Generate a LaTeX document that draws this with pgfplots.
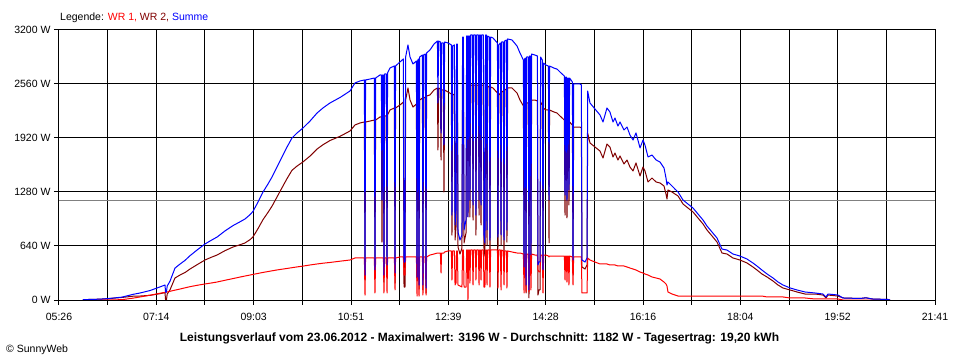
\documentclass[border=0pt]{standalone}
\usepackage{fontspec}
\setmainfont{Liberation Sans}
\usepackage{pgfplots}
\usepackage{pgfplotstable}
\pgfplotsset{compat=1.18}
\definecolor{wrone}{RGB}{255,0,0}
\definecolor{wrtwo}{RGB}{128,0,0}
\definecolor{summe}{RGB}{0,0,255}
\definecolor{avg}{RGB}{128,128,128}
\pgfplotstableread{
t wr1 wr2 summe
352.7 0 4 4
371.6 0 10 10
382.8 1 18 19
396.1 4 30 34
408.4 22 45 67
416.2 36 47 83
427.3 57 55 112
438.4 80 75 155
444.0 91 87 178
444.6 92 0 92
445.6 94 0 94
446.4 95 70 165
449.5 103 119 222
455.1 117 261 378
460.7 130 296 426
466.2 144 325 469
471.8 158 367 525
480.7 176 425 601
488.5 190 474 664
495.2 201 505 706
501.9 213 533 746
510.8 234 585 819
519.7 254 628 882
527.5 272 655 927
533.0 284 676 960
538.6 296 715 1011
541.9 303 747 1050
547.5 315 846 1161
553.1 327 953 1280
558.6 337 1038 1375
563.1 346 1112 1458
568.6 356 1220 1576
574.2 365 1330 1695
579.8 374 1439 1813
585.3 383 1537 1920
590.9 392 1587 1979
597.6 402 1637 2039
605.4 415 1706 2121
613.2 427 1789 2216
619.8 436 1840 2276
627.6 445 1890 2335
638.8 460 1940 2400
649.9 474 2003 2477
655.4 498 2074 2572
661.0 498 2098 2596
665.9 498 2110 2608
666.6 59 237 296
667.2 498 2110 2608
672.2 498 2121 2619
677.0 498 2133 2631
677.7 83 273 356
678.4 498 2133 2631
683.3 498 2169 2667
684.8 498 2169 2667
685.5 498 687 1185
686.2 498 2169 2667
687.1 498 2169 2667
687.7 83 213 296
688.4 498 2181 2679
690.4 498 2181 2679
691.1 83 332 415
691.7 498 2193 2691
694.4 498 2252 2750
699.3 498 2276 2774
700.0 119 201 320
700.6 498 2276 2774
705.5 510 2311 2821
709.3 510 2347 2857
710.0 296 154 450
711.1 296 154 450
711.8 510 2370 2880
714.4 510 2513 3023
716.7 510 2370 2880
720.0 510 2287 2797
723.8 510 2323 2833
724.5 47 225 272
725.1 510 2323 2833
726.0 510 2347 2857
726.7 47 130 177
727.4 510 2370 2880
730.5 510 2394 2904
731.1 59 119 178
731.8 510 2394 2904
733.8 510 2406 2916
734.5 59 83 142
735.1 510 2418 2928
738.9 533 2430 2963
743.4 545 2489 3034
747.2 557 2513 3070
747.8 557 1778 2335
748.5 557 2513 3070
750.5 557 2501 3058
751.2 320 1659 1979
751.8 557 2489 3046
753.8 557 2489 3046
754.5 557 1280 1837
755.2 569 2489 3058
759.0 581 2465 3046
762.7 581 2442 3023
763.4 237 770 1007
764.1 581 2430 3011
766.1 581 2442 3023
766.8 178 711 889
767.9 201 865 1066
768.5 581 2453 3034
769.4 581 2453 3034
770.1 178 628 806
772.3 166 545 711
774.5 154 616 770
775.2 593 2524 3117
776.1 593 2524 3117
776.8 154 676 830
779.0 154 794 948
779.7 593 2536 3129
780.6 593 2536 3129
781.2 0 984 984
781.9 593 2536 3129
782.8 593 2536 3129
783.4 201 984 1185
784.1 593 2548 3141
786.1 593 2548 3141
786.8 178 948 1126
787.5 593 2548 3141
789.5 593 2548 3141
790.1 237 770 1007
790.8 593 2548 3141
792.8 593 2548 3141
793.5 178 1007 1185
794.1 593 2548 3141
795.0 593 2548 3141
795.7 237 889 1126
796.4 593 2548 3141
798.4 593 2548 3141
799.0 154 616 770
800.1 154 521 675
800.8 593 2548 3141
801.7 593 2548 3141
802.4 178 652 830
803.0 593 2536 3129
805.0 593 2524 3117
805.7 154 557 711
806.4 593 2524 3117
809.0 593 2513 3106
814.0 593 2453 3046
814.6 142 604 746
815.3 593 2430 3023
817.3 593 2453 3046
818.0 119 652 771
818.6 593 2465 3058
820.6 581 2477 3058
821.3 178 533 711
822.0 581 2489 3070
824.0 581 2501 3082
824.6 142 687 829
825.3 581 2513 3094
830.2 569 2513 3082
835.8 557 2453 3010
839.1 557 2370 2927
842.9 545 2299 2844
843.6 83 308 391
844.2 545 2311 2856
845.1 545 2323 2868
845.8 95 83 178
846.4 545 2335 2880
848.4 545 2335 2880
849.1 95 24 119
849.8 545 2347 2892
850.7 545 2347 2892
851.3 119 415 534
852.0 545 2370 2915
855.8 533 2370 2903
858.5 533 2359 2892
859.1 356 59 415
860.2 332 119 451
861.4 332 119 451
862.0 533 2347 2880
864.0 533 2311 2844
864.7 83 273 356
865.4 533 2276 2809
868.0 533 2252 2785
870.7 521 2252 2773
871.4 510 676 1186
872.0 521 2252 2773
876.9 521 2228 2749
880.3 521 2216 2737
883.6 521 2181 2702
888.5 521 2133 2654
889.2 237 1007 1244
889.9 521 2121 2642
890.7 521 2121 2642
891.4 213 972 1185
892.1 521 2110 2631
893.0 521 2110 2631
893.6 178 1126 1304
894.3 521 2110 2631
897.4 510 2074 2584
898.1 178 296 474
898.8 510 2050 2560
905.9 510 2050 2560
907.4 510 2039 2549
908.1 83 391 474
911.5 83 367 450
913.7 83 415 498
914.4 498 1979 2477
917.0 474 1861 2335
922.6 450 1813 2263
928.1 427 1766 2193
931.5 427 1683 2110
935.9 427 1849 2276
939.2 415 1813 2228
942.6 415 1695 2110
944.8 415 1742 2157
948.1 403 1659 2062
950.4 403 1707 2110
954.8 403 1612 2015
958.2 391 1659 2050
961.5 379 1576 1955
964.9 367 1529 1896
968.2 356 1624 1980
972.7 332 1470 1802
976.0 320 1576 1896
978.2 308 1529 1837
981.6 296 1399 1695
986.0 273 1446 1719
990.5 261 1399 1660
994.9 249 1387 1636
999.4 213 1351 1564
1001.6 190 1256 1446
1002.7 166 1197 1363
1003.8 95 1304 1399
1008.3 71 1280 1351
1011.6 59 1256 1315
1015.0 47 1233 1280
1020.5 47 1138 1185
1026.1 47 1090 1137
1031.7 47 1043 1090
1037.2 47 972 1019
1042.8 47 901 948
1047.2 47 830 877
1052.8 47 759 806
1058.4 47 687 734
1063.9 47 557 604
1069.5 47 545 592
1076.1 47 498 545
1083.9 47 474 521
1091.7 47 439 486
1098.4 47 391 438
1102.8 47 356 403
1108.4 47 308 355
1114.0 36 273 309
1120.7 36 225 261
1126.2 36 178 214
1131.8 36 142 178
1139.6 24 119 143
1147.4 24 95 119
1156.3 24 71 95
1167.4 12 71 83
1176.3 12 59 71
1179.7 12 24 36
1181.9 12 59 71
1193.0 12 47 59
1198.6 0 24 24
1217.5 0 18 18
1224.2 0 26 26
1231.2 0 12 12
1248.7 0 6 6
1250.9 0 0 0
}\datatable
\begin{document}
\begin{tikzpicture}
\useasboundingbox (-59bp,-60bp) rectangle (901bp,300bp);
\begin{axis}[at={(0,0)}, anchor=south west, scale only axis,
  width=876bp, height=270bp,
  xmin=326, xmax=1301, ymin=0, ymax=3200,
  xtick={326,380.1667,434.3333,488.5,542.6667,596.8333,651,705.1667,759.3333,813.5,867.6667,921.8333,976,1030.1667,1084.3333,1138.5,1192.6667,1246.8333,1301},
  xticklabels={05:26,,07:14,,09:03,,10:51,,12:39,,14:28,,16:16,,18:04,,19:52,,21:41},
  ytick={0,640,1280,1920,2560,3200},
  yticklabels={0 W,640 W,1280 W,1920 W,2560 W,3200 W},
  tick pos=left, tick align=outside, major tick length=5bp,
  every tick/.style={black, line width=1bp},
  grid=major, major grid style={black, line width=1bp},
  axis line style={black, line width=1bp},
  ticklabel style={font=\fontsize{10.5bp}{12bp}\selectfont, text=black},
  xticklabel style={yshift=-5bp},
  every axis plot/.append style={line width=1bp, line join=round, no markers},
]
\addplot[avg] coordinates {(326,1182) (1301,1182)};
\addplot[wrtwo] table[x=t, y=wr2] {\datatable};
\addplot[wrone] table[x=t, y=wr1] {\datatable};
\addplot[summe] table[x=t, y=summe] {\datatable};
\end{axis}
\node[anchor=base west, font=\fontsize{10.5bp}{12bp}\selectfont, inner sep=0pt] at ([xshift=1bp,yshift=9bp]current axis.north west) {Legende: \textcolor{wrone}{WR 1,} \textcolor{wrtwo}{WR 2,} \textcolor{summe}{Summe}};
\node[anchor=base, font=\fontsize{12bp}{14bp}\selectfont\bfseries, inner sep=0pt] at ([xshift=420.5bp,yshift=-41bp]current axis.south west) {Leistungsverlauf vom 23.06.2012 - Maximalwert: 3196 W - Durchschnitt: 1182 W - Tagesertrag: 19,20 kWh};
\node[anchor=base west, font=\fontsize{10.5bp}{12bp}\selectfont, inner sep=0pt] at ([xshift=-53bp,yshift=-52bp]current axis.south west) {\textcopyright{} SunnyWeb};
\end{tikzpicture}
\end{document}
